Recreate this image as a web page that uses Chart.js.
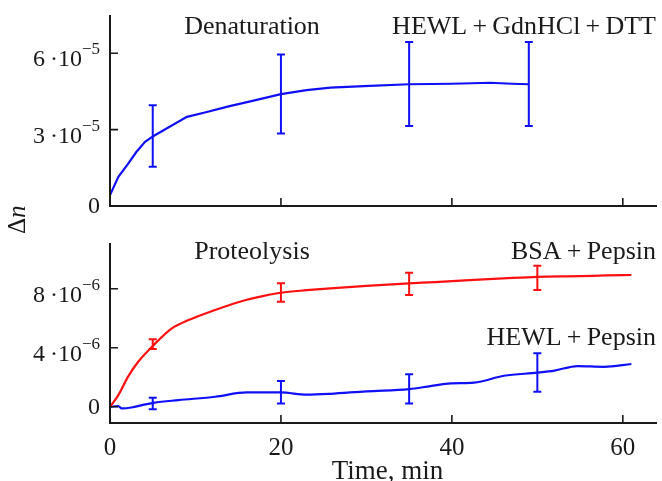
<!DOCTYPE html>
<html>
<head>
<meta charset="utf-8">
<script src="https://cdn.jsdelivr.net/npm/chart.js@4.4.0/dist/chart.umd.min.js"></script>
<style>
    body { margin: 0; background: #fff; }
    #wrap { position: relative; width: 662px; height: 481px; overflow: hidden; }
    canvas { position: absolute; left: 0; }
    #top { top: 0; }
    #bottom { top: 230px; }
</style>
</head>
<body>
<div id="wrap">
    <canvas id="top" width="662" height="240"></canvas>
    <canvas id="bottom" width="662" height="251"></canvas>
</div>
<script>
// x axis (time, min)
const xTicks = [0, 20, 40, 60];

// Denaturation panel, values in units of 1e-5
const denatX = [0, 0.98, 2.15, 3.1, 4.1, 5.1, 9, 11.1, 14, 16.8, 20, 23, 25.8, 29.7, 35, 40, 44.5, 47, 49];
const denatY = [0.43, 1.15, 1.67, 2.13, 2.52, 2.75, 3.5, 3.67, 3.92, 4.14, 4.39, 4.55, 4.65, 4.71, 4.78, 4.80, 4.84, 4.80, 4.78];
const denatErrX = [5, 20, 35, 49];
const denatErrLo = [1.54, 2.85, 3.14, 3.14];
const denatErrHi = [3.96, 5.95, 6.44, 6.44];
const denatTicks = [0, 3, 6];

// Proteolysis panel, values in units of 1e-6
const bsaX = [0, 0.98, 2.1, 3.3, 5.1, 7.2, 9.2, 12.3, 14, 16, 18, 20, 23, 25.8, 30, 35, 38, 42.6, 46, 50, 55, 58, 61];
const bsaY = [0, 0.79, 2.03, 3.05, 4.18, 5.3, 5.88, 6.56, 6.9, 7.25, 7.52, 7.73, 7.9, 8.03, 8.2, 8.37, 8.45, 8.6, 8.7, 8.81, 8.85, 8.9, 8.93];
const bsaErrX = [5, 20, 35, 50];
const bsaErrLo = [3.91, 7.12, 7.57, 7.91];
const bsaErrHi = [4.57, 8.37, 9.08, 9.56];

const hewlX = [0, 0.98, 1.36, 2.5, 4, 5.1, 8, 12.3, 16, 20, 23, 25.8, 30, 35, 37.5, 39.9, 42.6, 46.1, 50, 52, 54.7, 57.8, 61];
const hewlY = [0, 0.05, -0.11, -0.05, 0.15, 0.27, 0.45, 0.68, 0.97, 0.97, 0.82, 0.88, 1.05, 1.2, 1.4, 1.58, 1.63, 2.1, 2.31, 2.45, 2.76, 2.71, 2.9];
const hewlErrX = [5, 20, 35, 50];
const hewlErrLo = [-0.16, 0.23, 0.23, 1.02];
const hewlErrHi = [0.61, 1.74, 2.2, 3.62];
const protTicks = [0, 4, 8];

const BLUE = '#1010f8';
const RED = '#ff1010';
const INK = '#1a1a1a';
const SERIF = '"Liberation Serif", "DejaVu Serif", serif';

function toPoints(xs, ys, unit) {
    return xs.map((x, i) => ({ x: x, y: ys[i] * unit }));
}

function lineSet(xs, ys, unit, color, smooth) {
    return {
        data: toPoints(xs, ys, unit),
        borderColor: color,
        borderWidth: 2.2,
        pointRadius: 0,
        fill: false,
        cubicInterpolationMode: smooth ? 'monotone' : 'default',
        tension: smooth ? 0.4 : 0
    };
}

// axes, inward ticks, tick labels, error bars and captions
function panelPlugin(cfg) {
    return {
        id: 'panel',
        afterDatasetsDraw(chart) {
            const ctx = chart.ctx;
            const xs = chart.scales.x, ys = chart.scales.y;
            const area = chart.chartArea;
            ctx.save();

            cfg.errors.forEach(e => {
                ctx.strokeStyle = e.color;
                ctx.lineWidth = 2;
                e.x.forEach((xv, i) => {
                    const px = xs.getPixelForValue(xv);
                    const lo = ys.getPixelForValue(e.lo[i] * cfg.unit);
                    const hi = ys.getPixelForValue(e.hi[i] * cfg.unit);
                    ctx.beginPath();
                    ctx.moveTo(px, lo); ctx.lineTo(px, hi);
                    ctx.moveTo(px - 4, lo); ctx.lineTo(px + 4, lo);
                    ctx.moveTo(px - 4, hi); ctx.lineTo(px + 4, hi);
                    ctx.stroke();
                });
            });

            // axis lines
            ctx.strokeStyle = INK;
            ctx.lineWidth = 2;
            ctx.beginPath();
            ctx.moveTo(area.left, area.top);
            ctx.lineTo(area.left, area.bottom);
            ctx.lineTo(area.right, area.bottom);
            ctx.stroke();

            // tick marks pointing inward
            ctx.lineWidth = 1.6;
            ctx.beginPath();
            xTicks.forEach(v => {
                const px = xs.getPixelForValue(v);
                ctx.moveTo(px, area.bottom); ctx.lineTo(px, area.bottom - 8);
            });
            cfg.yTicks.forEach(v => {
                const py = ys.getPixelForValue(v * cfg.unit);
                ctx.moveTo(area.left, py); ctx.lineTo(area.left + 8, py);
            });
            ctx.stroke();

            // y tick labels with power of ten
            ctx.fillStyle = INK;
            cfg.yTicks.forEach(v => {
                const py = ys.getPixelForValue(v * cfg.unit);
                const right = area.left - 10;
                if (v === 0) {
                    ctx.font = '24px ' + SERIF;
                    ctx.textAlign = 'right';
                    ctx.textBaseline = 'middle';
                    ctx.fillText('0', right, py + 1);
                    return;
                }
                ctx.textBaseline = 'alphabetic';
                ctx.textAlign = 'right';
                ctx.font = '17px ' + SERIF;
                const sup = '\u2212' + cfg.exp;
                const supW = ctx.measureText(sup).width;
                ctx.fillText(sup, right, py + 1);
                ctx.font = '24px ' + SERIF;
                ctx.fillText(v + '\u2009\u00b710', right - supW, py + 13);
            });

            // x tick labels
            if (cfg.xLabels) {
                ctx.font = '25px ' + SERIF;
                ctx.textAlign = 'center';
                ctx.textBaseline = 'middle';
                xTicks.forEach(v => {
                    ctx.fillText(String(v), xs.getPixelForValue(v), area.bottom + 25);
                });
                ctx.textBaseline = 'alphabetic';
                ctx.font = '27px ' + SERIF;
                ctx.fillText('Time, min', (area.left + area.right) / 2 + 4, area.bottom + 56);
            }

            // captions
            ctx.font = '26px ' + SERIF;
            ctx.textBaseline = 'middle';
            cfg.captions.forEach(c => {
                ctx.textAlign = c.align;
                ctx.fillText(c.text, c.x, c.y);
            });

            // axis label (top canvas only)
            if (cfg.yTitle) {
                ctx.translate(18, 220);
                ctx.rotate(-Math.PI / 2);
                ctx.textAlign = 'left';
                ctx.textBaseline = 'middle';
                ctx.font = '25px ' + SERIF;
                const dw = ctx.measureText('\u0394').width;
                ctx.fillText('\u0394', -14, 0);
                ctx.font = 'italic 25px ' + SERIF;
                ctx.fillText('n', -14 + dw, 0);
            }
            ctx.restore();
        }
    };
}

function makeChart(id, datasets, yMin, yMax, xHeight, padTop, plugin) {
    return new Chart(document.getElementById(id), {
        type: 'line',
        data: { datasets: datasets },
        options: {
            responsive: false,
            animation: false,
            layout: { padding: { top: padTop, right: 5, left: 0, bottom: 0 } },
            plugins: { legend: { display: false }, tooltip: { enabled: false } },
            scales: {
                x: {
                    type: 'linear', min: 0, max: 64,
                    grid: { display: false }, border: { display: false },
                    ticks: { display: false },
                    afterFit: s => { s.height = xHeight; }
                },
                y: {
                    min: yMin, max: yMax,
                    grid: { display: false }, border: { display: false },
                    ticks: { display: false },
                    afterFit: s => { s.width = 110; }
                }
            }
        },
        plugins: [plugin]
    });
}

const U5 = 1e-5, U6 = 1e-6;

makeChart('top', [lineSet(denatX, denatY, U5, BLUE, false)], 0, 7.5e-5, 34, 15, panelPlugin({
    unit: U5, exp: 5, yTicks: denatTicks, xLabels: false, yTitle: true,
    errors: [{ x: denatErrX, lo: denatErrLo, hi: denatErrHi, color: BLUE }],
    captions: [
        { text: 'Denaturation', x: 252, y: 27, align: 'center' },
        { text: 'HEWL\u2009+\u2009GdnHCl\u2009+\u2009DTT', x: 656, y: 27, align: 'right' }
    ]
}));

makeChart('bottom', [lineSet(bsaX, bsaY, U6, RED, true), lineSet(hewlX, hewlY, U6, BLUE, true)], -1.1e-6, 11.1e-6, 58, 13, panelPlugin({
    unit: U6, exp: 6, yTicks: protTicks, xLabels: true, yTitle: false,
    errors: [
        { x: bsaErrX, lo: bsaErrLo, hi: bsaErrHi, color: RED },
        { x: hewlErrX, lo: hewlErrLo, hi: hewlErrHi, color: BLUE }
    ],
    captions: [
        { text: 'Proteolysis', x: 252, y: 22, align: 'center' },
        { text: 'BSA\u2009+\u2009Pepsin', x: 656, y: 22, align: 'right' },
        { text: 'HEWL\u2009+\u2009Pepsin', x: 656, y: 108, align: 'right' }
    ]
}));
</script>
</body>
</html>
